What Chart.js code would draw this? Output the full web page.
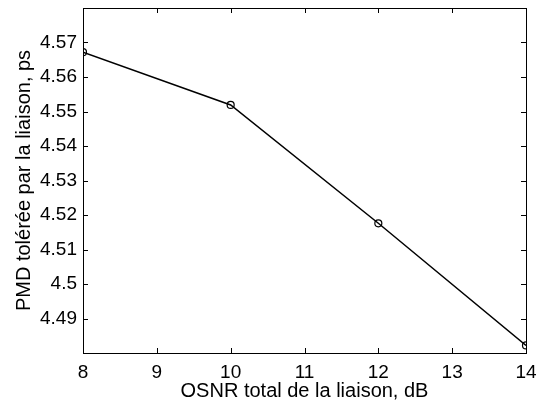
<!DOCTYPE html>
<html>
<head>
<meta charset="utf-8">
<script src="https://cdn.jsdelivr.net/npm/chart.js@4/dist/chart.umd.min.js"></script>
<style>
    html, body { margin: 0; padding: 0; background: #fff; }
    #box { width: 537px; height: 406px; }
</style>
</head>
<body>
<div id="box"><canvas id="pmd"></canvas></div>
<script>
// values
const osnr = [8, 10, 12, 14];
const pmd = [4.5672, 4.5519, 4.5176, 4.4822];
const xTicks = [8, 9, 10, 11, 12, 13, 14];
const yTicks = [4.49, 4.50, 4.51, 4.52, 4.53, 4.54, 4.55, 4.56, 4.57];

const tickFont = { family: 'Liberation Sans, Arial, sans-serif', size: 19 };
const titleFont = { family: 'Liberation Sans, Arial, sans-serif', size: 20 };

// matlab style frame: full box and inward ticks on all four sides
const matlabFrame = {
    id: 'matlabFrame',
    afterDraw(chart) {
        const ctx = chart.ctx;
        const a = chart.chartArea;
        const x = chart.scales.x;
        const y = chart.scales.y;
        const len = 5;
        ctx.save();
        ctx.strokeStyle = '#000';
        ctx.lineWidth = 1;
        ctx.beginPath();
        for (const v of xTicks) {
            const px = Math.round(x.getPixelForValue(v)) + 0.5;
            ctx.moveTo(px, a.bottom);
            ctx.lineTo(px, a.bottom - len);
            ctx.moveTo(px, a.top);
            ctx.lineTo(px, a.top + len);
        }
        for (const v of yTicks) {
            const py = Math.round(y.getPixelForValue(v)) + 0.5;
            ctx.moveTo(a.left, py);
            ctx.lineTo(a.left + len, py);
            ctx.moveTo(a.right, py);
            ctx.lineTo(a.right - len, py);
        }
        ctx.stroke();
        ctx.strokeRect(Math.round(a.left) + 0.5, Math.round(a.top) + 0.5,
            Math.round(a.right - a.left), Math.round(a.bottom - a.top));
        ctx.restore();
    }
};

let context = document.getElementById('pmd').getContext('2d');
window.diagram = new Chart(context, {
    type: 'line',
    data: {
        datasets: [{
            data: osnr.map((v, i) => ({ x: v, y: pmd[i] })),
            borderColor: '#000',
            borderWidth: 1.5,
            pointRadius: 3.5,
            pointBorderWidth: 1.2,
            pointBorderColor: '#000',
            pointBackgroundColor: 'rgba(0,0,0,0)',
            tension: 0
        }]
    },
    options: {
        responsive: true,
        maintainAspectRatio: false,
        animation: false,
        layout: { padding: { top: 8, right: 11, left: 0, bottom: 0 } },
        plugins: {
            legend: { display: false },
            tooltip: { enabled: false }
        },
        scales: {
            x: {
                type: 'linear',
                min: 8,
                max: 14,
                afterBuildTicks: (s) => { s.ticks = xTicks.map(v => ({ value: v })); },
                afterFit: (s) => {
                    s.height = 53;
                    s.paddingLeft = 0;
                    s.paddingRight = 0;
                },
                grid: { display: false, drawTicks: false },
                border: { display: false },
                ticks: { color: '#000', font: tickFont, padding: 8, maxRotation: 0 },
                title: {
                    display: true,
                    text: 'OSNR total de la liaison, dB',
                    color: '#000',
                    font: titleFont,
                    padding: { top: 0, bottom: 3 }
                }
            },
            y: {
                min: 4.48,
                max: 4.58,
                afterBuildTicks: (s) => { s.ticks = yTicks.map(v => ({ value: v })); },
                afterFit: (s) => {
                    s.width = 83;
                    s.paddingTop = 0;
                    s.paddingBottom = 0;
                },
                grid: { display: false, drawTicks: false },
                border: { display: false },
                ticks: {
                    color: '#000',
                    font: tickFont,
                    padding: 6,
                    callback: (v) => String(Number(v.toFixed(2)))
                },
                title: {
                    display: true,
                    text: 'PMD tolérée par la liaison, ps',
                    color: '#000',
                    font: titleFont,
                    padding: { top: 12, bottom: 0 }
                }
            }
        }
    },
    plugins: [matlabFrame]
});
</script>
</body>
</html>
